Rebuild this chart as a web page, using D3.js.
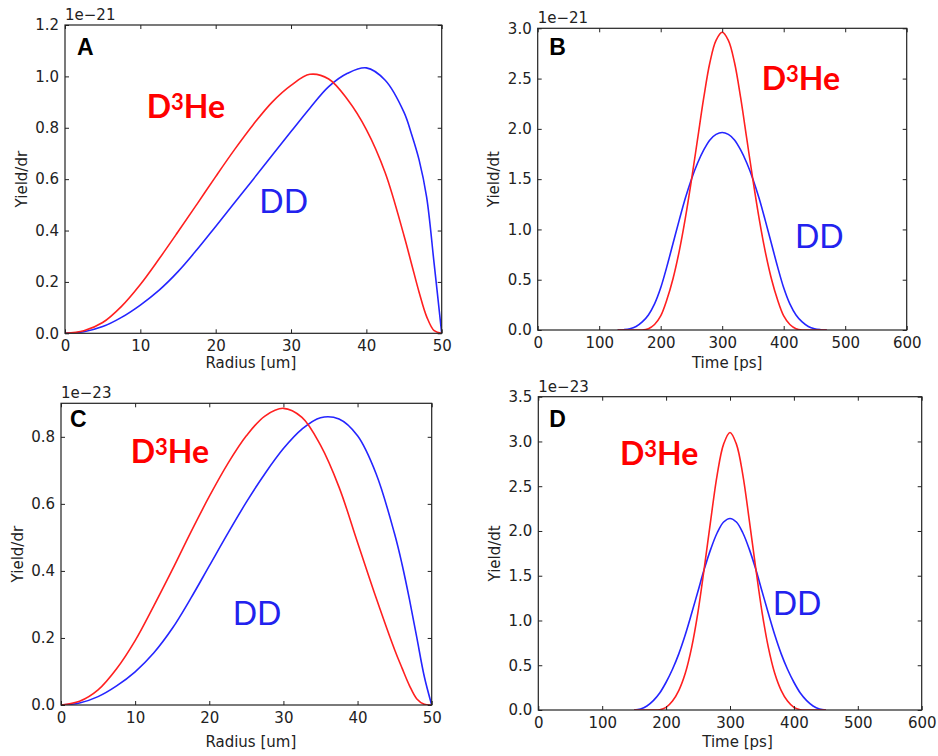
<!DOCTYPE html>
<html>
<head>
<meta charset="utf-8">
<script src="https://cdn.jsdelivr.net/npm/d3@7"></script>
<style>
  html, body { margin: 0; padding: 0; background: #fff; }
  svg { display: block; }
</style>
</head>
<body>
<svg id="fig" width="938" height="756"></svg>
<script>
// ---- data (yields in units of the axis offset: 1e-21 for A/B, 1e-23 for C/D) ----
const radius = [0, 2.5, 5, 7.5, 10, 12.5, 15, 17.5, 20, 22.5, 25, 27.5, 30, 32.5, 35, 37.5, 40, 42.5, 45, 46, 47, 48, 49, 50];

const d3heRadialA = [0, 0.010, 0.042, 0.105, 0.190, 0.290, 0.395, 0.502, 0.610, 0.715, 0.813, 0.900, 0.965, 1.008, 0.990, 0.910, 0.793, 0.625, 0.380, 0.270, 0.160, 0.065, 0.010, 0];
const ddRadialA   = [0, 0.006, 0.026, 0.062, 0.110, 0.168, 0.240, 0.325, 0.416, 0.508, 0.600, 0.693, 0.785, 0.876, 0.960, 1.012, 1.033, 0.985, 0.860, 0.775, 0.675, 0.530, 0.270, 0];

const d3heRadialC = [0, 0.011, 0.045, 0.108, 0.192, 0.295, 0.403, 0.515, 0.622, 0.720, 0.803, 0.862, 0.885, 0.858, 0.775, 0.650, 0.485, 0.320, 0.165, 0.110, 0.058, 0.018, 0.002, 0];
const ddRadialC   = [0, 0.006, 0.025, 0.057, 0.099, 0.155, 0.228, 0.318, 0.415, 0.512, 0.605, 0.690, 0.765, 0.823, 0.857, 0.853, 0.803, 0.690, 0.510, 0.420, 0.315, 0.200, 0.085, 0];

const timeB = [130, 140, 150, 160, 170, 180, 190, 200, 210, 220, 230, 240, 250, 260, 270, 280, 290, 300,
               310, 320, 330, 340, 350, 360, 370, 380, 390, 400, 410, 420, 430, 440, 450, 460, 470];
const d3heTimeB = [0, 0, 0, 0, 0, 0.013, 0.055, 0.14, 0.30, 0.51, 0.78, 1.11, 1.49, 1.90, 2.31, 2.66, 2.88, 2.96,
                   2.88, 2.66, 2.31, 1.90, 1.49, 1.11, 0.78, 0.51, 0.30, 0.14, 0.055, 0.013, 0, 0, 0, 0, 0];
const ddTimeB   = [0, 0.003, 0.012, 0.035, 0.08, 0.15, 0.26, 0.42, 0.63, 0.86, 1.09, 1.31, 1.50, 1.66, 1.79, 1.89, 1.945, 1.964,
                   1.945, 1.89, 1.79, 1.66, 1.50, 1.31, 1.09, 0.86, 0.63, 0.42, 0.26, 0.15, 0.08, 0.035, 0.012, 0.003, 0];

const timeD = [150, 160, 170, 180, 190, 200, 210, 220, 230, 240, 250, 260, 270, 280, 290, 300,
               310, 320, 330, 340, 350, 360, 370, 380, 390, 400, 410, 420, 430, 440, 450];
const d3heTimeD = [0, 0, 0, 0, 0.003, 0.03, 0.10, 0.22, 0.41, 0.70, 1.10, 1.60, 2.13, 2.63, 2.97, 3.10,
                   2.97, 2.63, 2.13, 1.60, 1.10, 0.70, 0.41, 0.22, 0.10, 0.03, 0.003, 0, 0, 0, 0];
const ddTimeD   = [0, 0.012, 0.045, 0.105, 0.19, 0.31, 0.455, 0.63, 0.84, 1.08, 1.33, 1.58, 1.80, 1.98, 2.10, 2.14,
                   2.10, 1.98, 1.80, 1.58, 1.33, 1.08, 0.84, 0.63, 0.455, 0.31, 0.19, 0.105, 0.045, 0.012, 0];

const radiusTicks = [0, 10, 20, 30, 40, 50];
const timeTicks   = [0, 100, 200, 300, 400, 500, 600];
const yTicksA = [0, 0.2, 0.4, 0.6, 0.8, 1.0, 1.2];
const yTicksB = [0, 0.5, 1.0, 1.5, 2.0, 2.5, 3.0];
const yTicksC = [0, 0.2, 0.4, 0.6, 0.8];
const yTicksD = [0, 0.5, 1.0, 1.5, 2.0, 2.5, 3.0, 3.5];

// ---- layout of the four panels ----
const panels = [
  { letter: "A", box: { left: 65, top: 25, right: 441.7, bottom: 333.3 },
    xs: radius, d3he: d3heRadialA, dd: ddRadialA, xDomain: [0, 50], yDomain: [0, 1.2],
    xTicks: radiusTicks, yTicks: yTicksA, xTitle: "Radius [um]", yTitle: "Yield/dr", exponent: "1e\u221221",
    letterAt: [12, 30], d3heAt: [81.7, 93.3], ddAt: [194.3, 188.3], xTitleGap: 34.5, xTitleShift: -2.5 },
  { letter: "B", box: { left: 537.7, top: 28.3, right: 906.7, bottom: 330 },
    xs: timeB, d3he: d3heTimeB, dd: ddTimeB, xDomain: [0, 600], yDomain: [0, 3.0],
    xTicks: timeTicks, yTicks: yTicksB, xTitle: "Time [ps]", yTitle: "Yield/dt", exponent: "1e\u221221",
    letterAt: [11.6, 26.7], d3heAt: [224, 61.7], ddAt: [257.3, 220], xTitleGap: 38, xTitleShift: 5 },
  { letter: "C", box: { left: 61, top: 403.3, right: 431.7, bottom: 705 },
    xs: radius, d3he: d3heRadialC, dd: ddRadialC, xDomain: [0, 50], yDomain: [0, 0.9],
    xTicks: radiusTicks, yTicks: yTicksC, xTitle: "Radius [um]", yTitle: "Yield/dr", exponent: "1e\u221223",
    letterAt: [9, 23.4], d3heAt: [69.7, 60], ddAt: [171.7, 221.7], xTitleGap: 41.5, xTitleShift: 4.5 },
  { letter: "D", box: { left: 538.3, top: 396.7, right: 921.7, bottom: 710 },
    xs: timeD, d3he: d3heTimeD, dd: ddTimeD, xDomain: [0, 600], yDomain: [0, 3.5],
    xTicks: timeTicks, yTicks: yTicksD, xTitle: "Time [ps]", yTitle: "Yield/dt", exponent: "1e\u221223",
    letterAt: [11, 30], d3heAt: [81.7, 68.3], ddAt: [234.4, 218.3], xTitleGap: 36.5, xTitleShift: 7.5 }
];

const RED = "#ff2020", BLUE = "#2525ff";
const TICK_FONT = "'DejaVu Sans', sans-serif";
const svg = d3.select("#fig");

panels.forEach((p, idx) => {
  const b = p.box;
  const w = b.right - b.left, h = b.bottom - b.top;
  const x = d3.scaleLinear().domain(p.xDomain).range([b.left, b.right]);
  const y = d3.scaleLinear().domain(p.yDomain).range([b.bottom, b.top]);
  const g = svg.append("g");

  const clipId = "clip" + idx;
  svg.append("defs").append("clipPath").attr("id", clipId)
    .append("rect").attr("x", b.left).attr("y", b.top).attr("width", w).attr("height", h);

  // curves
  const line = d3.line()
    .x((d, i) => x(p.xs[i]))
    .y(d => y(d))
    .curve(d3.curveCatmullRom.alpha(0.5));
  const curves = g.append("g").attr("clip-path", `url(#${clipId})`);
  curves.append("path").datum(p.dd).attr("d", line)
    .attr("fill", "none").attr("stroke", BLUE).attr("stroke-width", 1.6);
  curves.append("path").datum(p.d3he).attr("d", line)
    .attr("fill", "none").attr("stroke", RED).attr("stroke-width", 1.6);

  // axes with inward ticks on all four sides
  const styleAxis = sel => {
    sel.select(".domain").remove();
    sel.selectAll(".tick line").attr("stroke", "#222").attr("stroke-width", 1);
    sel.selectAll(".tick text").attr("fill", "#222")
      .style("font-family", TICK_FONT).style("font-size", "15px");
  };
  g.append("g").attr("transform", `translate(0,${b.bottom})`)
    .call(d3.axisBottom(x).tickValues(p.xTicks).tickFormat(d3.format("d"))
      .tickSizeInner(-4).tickSizeOuter(0).tickPadding(7))
    .call(styleAxis);
  g.append("g").attr("transform", `translate(0,${b.top})`)
    .call(d3.axisTop(x).tickValues(p.xTicks).tickFormat("")
      .tickSizeInner(-4).tickSizeOuter(0))
    .call(styleAxis);
  g.append("g").attr("transform", `translate(${b.left},0)`)
    .call(d3.axisLeft(y).tickValues(p.yTicks).tickFormat(d3.format(".1f"))
      .tickSizeInner(-4).tickSizeOuter(0).tickPadding(6))
    .call(styleAxis);
  g.append("g").attr("transform", `translate(${b.right},0)`)
    .call(d3.axisRight(y).tickValues(p.yTicks).tickFormat("")
      .tickSizeInner(-4).tickSizeOuter(0))
    .call(styleAxis);

  // frame
  g.append("rect").attr("x", b.left).attr("y", b.top).attr("width", w).attr("height", h)
    .attr("fill", "none").attr("stroke", "#222").attr("stroke-width", 1.2);

  // offset (exponent) label
  g.append("text").attr("x", b.left).attr("y", b.top - 5)
    .attr("fill", "#222").style("font-family", TICK_FONT).style("font-size", "15px")
    .text(p.exponent);

  // axis titles
  g.append("text").attr("x", b.left + w / 2 + p.xTitleShift).attr("y", b.bottom + p.xTitleGap)
    .attr("text-anchor", "middle").attr("fill", "#222")
    .style("font-family", TICK_FONT).style("font-size", "15px")
    .text(p.xTitle);
  g.append("text")
    .attr("transform", `translate(${b.left - 38.5},${b.top + h / 2}) rotate(-90)`)
    .attr("text-anchor", "middle").attr("fill", "#222")
    .style("font-family", TICK_FONT).style("font-size", "15px")
    .text(p.yTitle);

  // panel letter
  g.append("text").attr("x", b.left + p.letterAt[0]).attr("y", b.top + p.letterAt[1])
    .attr("fill", "#000").style("font-family", "'Liberation Sans', Arial, sans-serif")
    .style("font-weight", "bold").style("font-size", "23px")
    .text(p.letter);

  // series annotations
  const lab = g.append("text").attr("x", b.left + p.d3heAt[0]).attr("y", b.top + p.d3heAt[1])
    .attr("fill", "#ff0000").style("font-family", "Lato, 'Open Sans', sans-serif")
    .style("font-weight", "bold").style("font-size", "32px");
  lab.append("tspan").text("D");
  lab.append("tspan").attr("dy", -8.5).style("font-size", "22px").text("3");
  lab.append("tspan").attr("dy", 8.5).text("He");

  g.append("text").attr("x", b.left + p.ddAt[0]).attr("y", b.top + p.ddAt[1])
    .attr("fill", "#2222ee").style("font-family", "Lato, 'Open Sans', sans-serif")
    .style("font-size", "32px")
    .text("DD");
});
</script>
</body>
</html>
